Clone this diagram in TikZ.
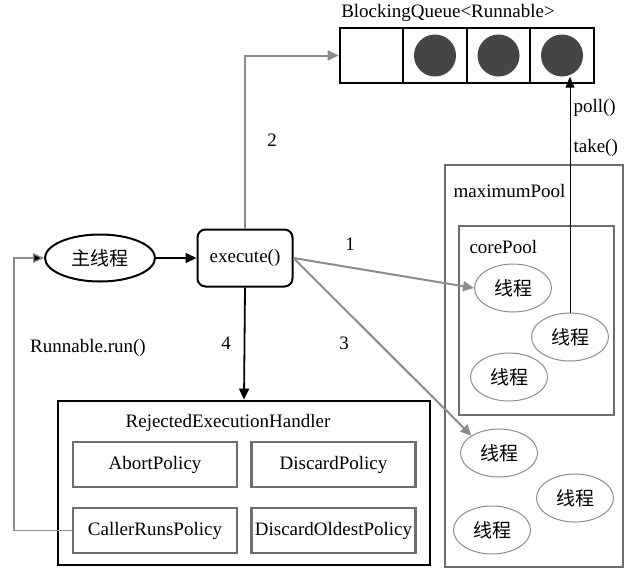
\documentclass[tikz,border=0pt]{standalone}
\usepackage{fontspec}
\setmainfont{Liberation Serif}
\newfontfamily\cjk{Noto Sans CJK SC}
\usetikzlibrary{arrows.meta,shapes.geometric}

\definecolor{linegray}{HTML}{8C8C8C}
\definecolor{boxgray}{HTML}{6E6E6E}
\definecolor{dotgray}{HTML}{454545}

\begin{document}
\begin{tikzpicture}[x=1pt,y=-1pt,
    every node/.style={font=\fontsize{19}{22}\selectfont},
    cell/.style={draw,line width=2.2pt,minimum width=63.5pt,minimum height=55pt,inner sep=0pt},
    dot/.style={circle,fill=dotgray,minimum size=42pt,inner sep=0pt},
    thread/.style={ellipse,draw=linegray,line width=1pt,minimum width=77pt,minimum height=48pt,inner sep=0pt,font=\cjk\fontsize{19}{22}\selectfont},
    pool/.style={draw=boxgray,line width=2.6pt,inner sep=0pt},
    policy/.style={draw=boxgray,line width=2.4pt,minimum width=164pt,minimum height=45pt,inner sep=0pt},
    blackarrow/.style={line width=1.8pt,-{Triangle[length=11pt,width=10pt]}},
    grayarrow/.style={linegray,line width=2pt,-{Triangle[length=11pt,width=10pt]}}]
  \useasboundingbox (0,0) rectangle (628,570);

  % queue
  \foreach \i/\cx in {1/371.5,2/435,3/498.5,4/562}
    \node[cell] (q\i) at (\cx,55.5) {};
  \foreach \i in {2,3,4}
    \node[dot] (c\i) at (q\i) {};
  \node (qlabel) at (448,13) {BlockingQueue<Runnable>};

  % pools
  \node[pool,minimum width=178pt,minimum height=402pt] (maxpool) at (534,366) {};
  \node[anchor=west] (maxlabel) at (450,191) {maximumPool};
  \node[pool,minimum width=155pt,minimum height=189pt] (corepool) at (536.5,320.5) {};
  \node[anchor=west] (corelabel) at (466,247) {corePool};
  \node[thread] (t1) at (513,288) {线程};
  \node[thread] (t2) at (570,337) {线程};
  \node[thread] (t3) at (509,377) {线程};
  \node[thread] (t4) at (499,453) {线程};
  \node[thread] (t5) at (575,498) {线程};
  \node[thread] (t6) at (492,530) {线程};

  % main thread and execute
  \node[ellipse,draw,line width=2pt,minimum width=110pt,minimum height=47pt,inner sep=0pt,font=\cjk\fontsize{19}{22}\selectfont] (main) at (100,258) {主线程};
  \node[draw,rounded corners=8pt,line width=2pt,minimum width=95pt,minimum height=57pt] (exec) at (245,258) {execute()};

  % handler
  \node[draw,line width=2.8pt,minimum width=372pt,minimum height=164pt,inner sep=0pt] (handler) at (244,483) {};
  \node (hlabel) at (228,423) {RejectedExecutionHandler};
  \node[policy] (abort) at (155,464.5) {AbortPolicy};
  \node[policy] (discard) at (333.5,464.5) {DiscardPolicy};
  \node[policy] (crp) at (155,530.5) {CallerRunsPolicy};
  \node[policy] (oldest) at (333.5,530.5) {DiscardOldestPolicy};

  % connectors
  \draw[blackarrow] (main) -- (exec);
  \draw[grayarrow] (exec.north) |- (q1.west);
  \draw[grayarrow] (exec.east) -- (t1.west);
  \draw[grayarrow] (exec.east) -- (t4.north west);
  \draw[blackarrow] (exec.south) -- (handler.north);
  \coordinate (pollend) at (t2.north |- c4.south);
  \draw[line width=1pt,-{Triangle[length=11pt,width=9pt]}] (t2.north) -- (pollend);
  \draw[linegray,line width=1.4pt,-{Triangle[length=11pt,width=10pt,fill=black]}] (crp.west) -- ++(-58,0) |- (main.west);

  % labels
  \node (n2) at (272,140) {2};
  \node (n1) at (350,244) {1};
  \node (n3) at (344,343) {3};
  \node (n4) at (226,343) {4};
  \node[anchor=west] (poll) at (570,108) {poll()};
  \node[anchor=west] (take) at (570,148) {take()};
  \node (runlabel) at (88,348) {Runnable.run()};
\end{tikzpicture}
\end{document}
